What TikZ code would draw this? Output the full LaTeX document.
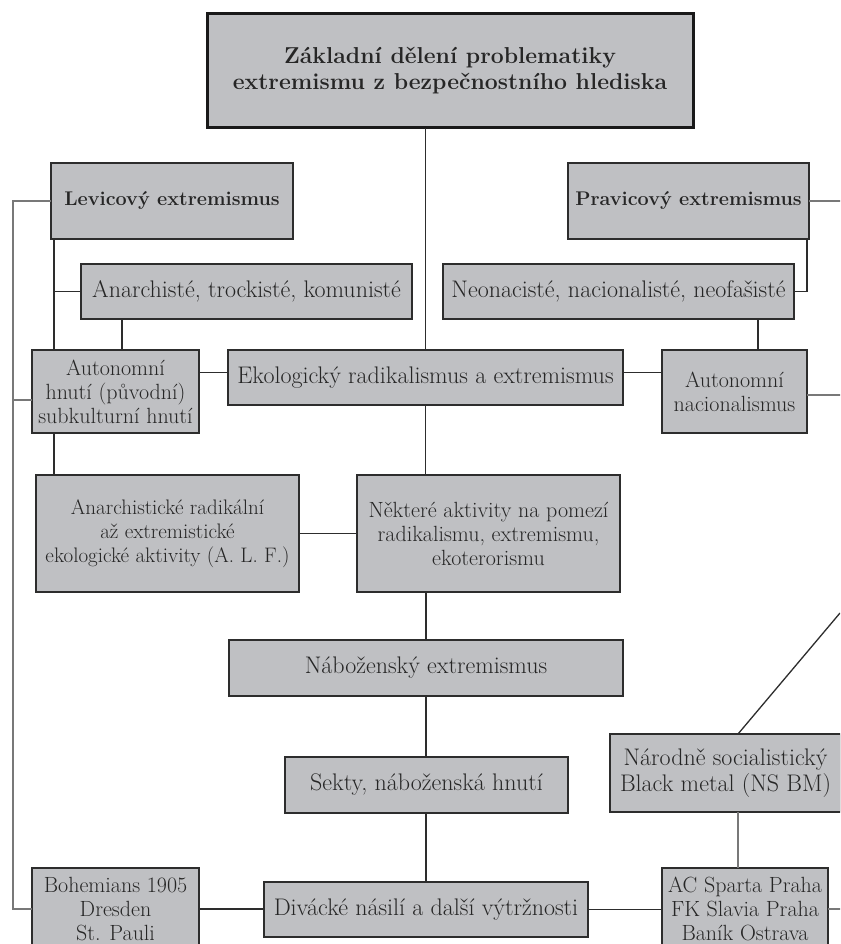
\documentclass[tikz,border=0pt]{standalone}
\usepackage{fontspec}
\usepackage{tikz}
\usetikzlibrary{arrows,shapes,positioning}
\definecolor{boxfill}{RGB}{191,192,195}
\definecolor{boxline}{RGB}{45,45,45}
\definecolor{busline}{RGB}{120,120,120}

\begin{document}
\begin{tikzpicture}[x=1pt,y=-1pt]
\tikzstyle{cat} = [rectangle, draw=boxline, fill=boxfill, line width=1.5pt, inner sep=0pt, outer sep=0pt, align=center, text=black!85, font=\fontsize{24}{27}\selectfont];%
\tikzstyle{small} = [cat, font=\fontsize{22}{24}\selectfont];%
\tikzstyle{head} = [cat, font=\fontsize{19.8}{25}\selectfont\bfseries];%
\tikzstyle{link} = [draw=boxline, line width=1.3pt];%
\tikzstyle{bus} = [draw=busline, line width=2pt];%

\clip (0,0) rectangle (840,944);
\fill[white] (0,0) rectangle (840,944);

\node at (450,71) [head, font=\fontsize{23}{26}\selectfont\bfseries, line width=3pt, draw=black!90, minimum width=486, minimum height=114] (title) {Základní dělení problematiky\\extremismu z bezpečnostního hlediska};
\node at (172,201) [head, minimum width=242, minimum height=76] (lev) {Levicový extremismus};
\node at (688.5,201) [head, minimum width=241, minimum height=76] (prav) {Pravicový extremismus};
\node at (246.5,291.5) [cat, minimum width=331, minimum height=55] (anar) {Anarchisté, trockisté, komunisté};
\node at (618.5,291.5) [cat, minimum width=351, minimum height=55] (neo) {Neonacisté, nacionalisté, neofašisté};
\node at (115.5,391.5) [small, minimum width=167, minimum height=83] (ahn) {Autonomní\\hnutí (původní)\\subkulturní hnutí};
\node at (425.5,377.5) [cat, minimum width=395, minimum height=55] (eko) {Ekologický radikalismus a extremismus};
\node at (734.5,391.5) [small, minimum width=145, minimum height=83] (anac) {Autonomní\\nacionalismus};
\node at (167.5,533.5) [small, font=\fontsize{21}{24}\selectfont, minimum width=263, minimum height=117] (alf) {Anarchistické radikální\\až extremistické\\ekologické aktivity (A. L. F.)};
\node at (488.5,533.5) [small, minimum width=263, minimum height=117] (nek) {Některé aktivity na pomezí\\radikalismu, extremismu,\\ekoterorismu};
\node at (426,668) [cat, minimum width=394, minimum height=56] (nab) {Náboženský extremismus};
\node at (426.5,785) [cat, minimum width=283, minimum height=56] (sek) {Sekty, náboženská hnutí};
\node at (725.5,773) [cat, font=\fontsize{24}{26}\selectfont, minimum width=231, minimum height=78] (nsbm) {Národně socialistický\\Black metal (NS BM)};
\node at (115.5,909) [small, minimum width=167, minimum height=82] (boh) {Bohemians 1905\\Dresden\\St. Pauli};
\node at (426,909.5) [cat, minimum width=324, minimum height=55] (div) {Divácké násilí a další výtržnosti};
\node at (745,909) [small, minimum width=166, minimum height=82] (acs) {AC Sparta Praha\\FK Slavia Praha\\Baník Ostrava};

\coordinate (lbus) at (13,0);
\coordinate (rbus) at (860,0);
\coordinate (nsup) at (840,613);

\path (eko.north) edge[link] (eko.north |- title.south);
\path (eko.south) edge[link] (eko.south |- nek.north);
\path (nab.north) edge[link] (nab.north |- nek.south);
\path (nab.south) edge[link] (nab.south |- sek.north);
\path (div.north) edge[link] (div.north |- sek.south);
\path ([yshift=5pt]eko.west) edge[link] ([yshift=5pt]eko.west -| ahn.east);
\path ([yshift=5pt]eko.east) edge[link] ([yshift=5pt]eko.east -| anac.west);
\path (alf.east) edge[link] (alf.east -| nek.west);
\path (boh.east) edge[link] (boh.east -| div.west);
\path (div.east) edge[link] (div.east -| acs.west);

\draw[link] ([xshift=3pt]lev.south west) -- ([xshift=3pt]lev.south west |- ahn.north);
\draw[link] ([xshift=3pt]lev.south west |- anar.west) -- (anar.west);
\draw[link] ([xshift=41pt]anar.south west) -- ([xshift=41pt]anar.south west |- ahn.north);
\draw[link] ([xshift=22pt]ahn.south west) -- ([xshift=22pt]ahn.south west |- alf.north);
\draw[link] ([xshift=-2pt]prav.south east) |- (neo.east);
\draw[link] ([xshift=-49pt]anac.north east) -- ([xshift=-49pt]anac.north east |- neo.south);

\draw[bus] (lev.west) -| (lbus |- boh.west) -- (boh.west);
\draw[bus] ([yshift=-8pt]ahn.west) -- ([yshift=-8pt]ahn.west -| lbus);
\draw[bus] (prav.east) -- (prav.east -| rbus);
\draw[bus] ([yshift=-3pt]anac.east) -- ([yshift=-3pt]anac.east -| rbus);
\draw[bus] (acs.east) -- (acs.east -| rbus);
\draw[bus] ([xshift=12.5pt]nsbm.south) -- ([xshift=12.5pt]nsbm.south |- acs.north);
\draw[link] ([xshift=12.5pt]nsbm.north) -- (nsup);

\end{tikzpicture}
\end{document}
